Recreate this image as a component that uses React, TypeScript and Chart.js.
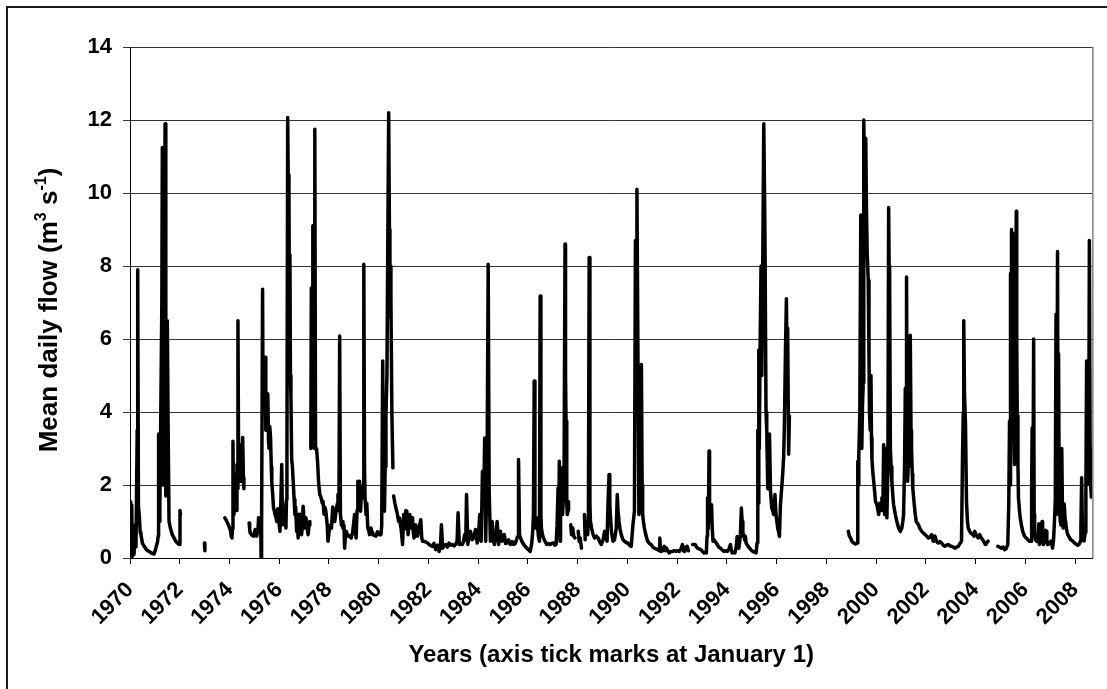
import React, { useEffect, useRef } from "react";
import { Chart, registerables } from "chart.js";

Chart.register(...registerables);

const yearTicks = [1970, 1972, 1974, 1976, 1978, 1980, 1982, 1984, 1986, 1988, 1990, 1992, 1994, 1996, 1998, 2000, 2002, 2004, 2006, 2008];
const yMin = 0;
const yMax = 14;
const yStep = 2;
const xMin = 1970;
const xMax = 2008.69;

const xTitle = "Years (axis tick marks at January 1)";
const yTitleParts: [string, boolean][] = [["Mean daily flow (m", false], ["3", true], [" s", false], ["-1", true], [")", false]];

// Mean daily flow, [decimal year, m3/s], separated where the record has gaps
const flow1970: [number, number][] = [
  [1970.00, 0.3], [1970.02, 1.54], [1970.04, 0.05], [1970.07, 1.45], [1970.10, 0.05], [1970.13, 0.9], [1970.16, 0.1], [1970.20, 0.6], [1970.24, 0.3], [1970.29, 3.5], [1970.31, 7.9], [1970.34, 1.4], [1970.37, 1.2], [1970.41, 0.7], [1970.44, 0.64], [1970.50, 0.4], [1970.57, 0.32], [1970.67, 0.22], [1970.77, 0.18], [1970.87, 0.13], [1970.97, 0.11], [1971.04, 0.27], [1971.11, 0.46], [1971.13, 0.6], [1971.15, 3.4], [1971.18, 1.0], [1971.20, 1.4], [1971.24, 4.1], [1971.28, 7.0], [1971.30, 11.25], [1971.33, 2.0], [1971.35, 8.5], [1971.37, 4.0], [1971.41, 11.9], [1971.44, 1.7], [1971.47, 3.5], [1971.50, 6.5], [1971.54, 3.0], [1971.57, 1.0], [1971.63, 0.8], [1971.70, 0.64], [1971.77, 0.55], [1971.84, 0.46], [1971.92, 0.4], [1971.99, 0.37], [1972.01, 1.3], [1972.03, 1.2],
];
const flow1973: [number, number][] = [[1972.99, 0.41], [1973.01, 0.2]];
const flow1974: [number, number][] = [
  [1973.81, 1.1], [1973.86, 1.05], [1973.90, 0.99], [1973.96, 0.9], [1974.03, 0.78], [1974.07, 0.6], [1974.10, 0.55], [1974.12, 0.8], [1974.14, 3.2], [1974.16, 1.2], [1974.18, 1.19], [1974.21, 2.3], [1974.23, 1.46], [1974.27, 1.3], [1974.30, 2.56], [1974.32, 1.9], [1974.34, 6.5], [1974.37, 2.1], [1974.40, 2.4], [1974.43, 3.1], [1974.47, 2.1], [1974.50, 2.6], [1974.53, 3.3], [1974.56, 2.2], [1974.58, 1.9],
];
const flow1975: [number, number][] = [
  [1974.79, 0.96], [1974.81, 0.8], [1974.83, 0.69], [1974.90, 0.62], [1974.97, 0.6], [1975.03, 0.78], [1975.07, 0.6], [1975.10, 0.64], [1975.14, 0.7], [1975.17, 1.1], [1975.20, 0.75], [1975.23, 0.82], [1975.26, 0.7], [1975.27, 0.0], [1975.29, 0.8], [1975.33, 7.36], [1975.35, 4.2], [1975.37, 4.1], [1975.40, 5.2], [1975.43, 5.5], [1975.46, 3.5], [1975.49, 3.9], [1975.52, 4.4], [1975.54, 4.5], [1975.57, 3.2], [1975.59, 3.0], [1975.62, 3.6], [1975.65, 3.3], [1975.68, 2.5], [1975.70, 2.1], [1975.74, 1.7], [1975.77, 1.37], [1975.80, 1.3], [1975.83, 1.19], [1975.87, 1.1], [1975.90, 1.0], [1975.94, 1.35], [1975.97, 1.28], [1976.00, 0.9], [1976.03, 0.73], [1976.06, 1.4], [1976.10, 2.56], [1976.12, 1.5], [1976.14, 0.91], [1976.18, 1.3], [1976.21, 1.19], [1976.24, 1.1], [1976.27, 0.82], [1976.29, 1.6], [1976.31, 3.0], [1976.34, 12.07], [1976.36, 10.5], [1976.39, 10.3], [1976.41, 6.0], [1976.43, 8.3], [1976.45, 5.0], [1976.47, 4.4], [1976.50, 2.7], [1976.53, 2.5], [1976.56, 2.1], [1976.60, 1.6], [1976.63, 1.19], [1976.66, 1.4], [1976.70, 0.73], [1976.73, 1.0], [1976.76, 0.55], [1976.80, 1.2], [1976.83, 0.91], [1976.87, 0.8], [1976.90, 0.64], [1976.93, 0.9], [1976.96, 1.42], [1977.00, 1.0], [1977.03, 0.82], [1977.07, 1.1], [1977.10, 1.0], [1977.13, 0.8], [1977.16, 0.64], [1977.20, 0.9], [1977.23, 1.0],
];
const flow1977: [number, number][] = [
  [1977.27, 3.0], [1977.29, 7.4], [1977.31, 5.5], [1977.33, 6.2], [1977.35, 9.1], [1977.37, 3.5], [1977.39, 5.2], [1977.41, 3.0], [1977.43, 11.75], [1977.46, 3.0], [1977.50, 3.0], [1977.54, 2.65], [1977.58, 2.1], [1977.63, 1.74], [1977.66, 1.7], [1977.70, 1.6], [1977.73, 1.5], [1977.76, 1.55], [1977.80, 1.2], [1977.83, 1.4], [1977.87, 1.3], [1977.90, 1.1], [1977.93, 0.9], [1977.96, 0.46], [1978.00, 0.7], [1978.05, 0.9], [1978.10, 0.82], [1978.15, 1.4], [1978.19, 1.1], [1978.23, 1.0], [1978.27, 1.2], [1978.30, 1.37], [1978.34, 1.5], [1978.36, 1.74], [1978.40, 1.3], [1978.43, 6.08], [1978.46, 1.2], [1978.50, 0.9], [1978.53, 1.0], [1978.56, 0.82], [1978.60, 0.9], [1978.63, 0.27], [1978.66, 0.6], [1978.70, 0.73], [1978.73, 0.6], [1978.76, 0.64], [1978.82, 0.6], [1978.89, 0.55], [1978.95, 0.7], [1979.03, 1.19], [1979.06, 0.8], [1979.09, 0.55], [1979.13, 1.3], [1979.16, 2.1], [1979.19, 1.4], [1979.23, 2.1], [1979.27, 1.28], [1979.31, 1.9], [1979.36, 1.65], [1979.38, 2.0], [1979.40, 8.05], [1979.43, 2.4], [1979.45, 1.65], [1979.49, 1.19], [1979.52, 1.5], [1979.56, 0.82], [1979.60, 0.75], [1979.63, 0.64], [1979.66, 0.7], [1979.69, 0.82], [1979.73, 0.7], [1979.76, 0.64], [1979.82, 0.62], [1979.89, 0.6], [1979.95, 0.72], [1980.03, 0.64], [1980.09, 0.64], [1980.12, 0.9], [1980.16, 5.4], [1980.19, 1.8], [1980.23, 1.28], [1980.26, 2.5], [1980.29, 3.9], [1980.33, 5.0], [1980.36, 8.2], [1980.40, 12.2], [1980.43, 9.0], [1980.45, 6.6], [1980.47, 8.0], [1980.49, 7.1], [1980.53, 3.9], [1980.57, 2.47],
];
const flow1981: [number, number][] = [
  [1980.60, 1.7], [1980.65, 1.5], [1980.69, 1.37], [1980.75, 1.2], [1980.80, 1.0], [1980.83, 1.1], [1980.90, 0.8], [1980.96, 0.37], [1981.00, 1.19], [1981.03, 0.8], [1981.05, 0.91], [1981.09, 1.3], [1981.13, 1.28], [1981.16, 0.9], [1981.18, 0.64], [1981.22, 1.0], [1981.25, 1.19], [1981.29, 0.82], [1981.33, 0.9], [1981.36, 1.1], [1981.39, 0.7], [1981.42, 0.55], [1981.46, 0.8], [1981.49, 0.91], [1981.53, 0.6], [1981.56, 0.6], [1981.63, 0.85], [1981.69, 1.05], [1981.73, 0.55], [1981.76, 0.46], [1981.86, 0.45], [1981.96, 0.41], [1982.06, 0.35], [1982.16, 0.32], [1982.22, 0.4], [1982.29, 0.23], [1982.36, 0.35], [1982.43, 0.18], [1982.48, 0.3], [1982.52, 0.91], [1982.57, 0.27], [1982.63, 0.35], [1982.69, 0.37], [1982.76, 0.3], [1982.83, 0.41], [1982.90, 0.35], [1982.96, 0.37], [1983.03, 0.33], [1983.09, 0.37], [1983.15, 0.45], [1983.19, 1.24], [1983.24, 0.37], [1983.30, 0.4], [1983.36, 0.37], [1983.41, 0.45], [1983.45, 0.64], [1983.50, 0.5], [1983.53, 1.74], [1983.58, 0.37], [1983.63, 0.6], [1983.69, 0.73], [1983.75, 0.5], [1983.82, 0.55], [1983.89, 0.78], [1983.96, 0.41], [1984.01, 0.6], [1984.06, 1.19], [1984.12, 0.46], [1984.17, 2.38], [1984.22, 1.55], [1984.26, 3.29], [1984.30, 0.46], [1984.33, 1.5], [1984.36, 3.0], [1984.40, 8.05], [1984.44, 1.83], [1984.49, 0.46], [1984.53, 0.8], [1984.56, 1.0], [1984.60, 0.5], [1984.65, 0.37], [1984.70, 0.6], [1984.76, 1.0], [1984.82, 0.37], [1984.89, 0.73], [1984.96, 0.46], [1985.05, 0.64], [1985.10, 0.4], [1985.16, 0.41], [1985.22, 0.5], [1985.29, 0.37], [1985.36, 0.45], [1985.42, 0.37], [1985.49, 0.4], [1985.56, 0.55], [1985.60, 0.6], [1985.62, 2.7], [1985.66, 0.64], [1985.70, 0.55], [1985.75, 0.46], [1985.85, 0.35], [1985.95, 0.27], [1986.03, 0.22], [1986.09, 0.18], [1986.15, 0.4], [1986.19, 0.73], [1986.22, 1.2], [1986.25, 4.85], [1986.28, 1.0], [1986.30, 0.82], [1986.34, 1.1], [1986.38, 0.91], [1986.42, 0.6], [1986.46, 0.46], [1986.49, 7.18], [1986.52, 1.2], [1986.54, 0.82], [1986.58, 0.65], [1986.62, 0.55], [1986.69, 0.45], [1986.75, 0.37], [1986.82, 0.4], [1986.89, 0.37], [1986.95, 0.4], [1987.02, 0.41], [1987.08, 0.35], [1987.13, 0.37], [1987.17, 0.9], [1987.21, 1.92], [1987.24, 1.0], [1987.26, 2.65], [1987.29, 0.46], [1987.31, 1.2], [1987.34, 2.47], [1987.37, 1.5], [1987.39, 1.19], [1987.42, 1.6], [1987.45, 2.01], [1987.49, 8.6], [1987.51, 5.0], [1987.53, 3.75], [1987.56, 1.5], [1987.58, 1.19], [1987.61, 1.3], [1987.63, 1.55],
];
const flow1987b: [number, number][] = [[1987.72, 0.91], [1987.75, 0.64], [1987.80, 0.82], [1987.84, 0.6], [1987.89, 0.55]];
const flow1988a: [number, number][] = [[1988.02, 0.73], [1988.06, 0.45], [1988.10, 0.55], [1988.15, 0.27]];
const flow1988b: [number, number][] = [[1988.27, 1.19], [1988.30, 0.5]];
const flow1988: [number, number][] = [
  [1988.40, 0.64], [1988.43, 1.19], [1988.46, 8.23], [1988.49, 1.5], [1988.51, 1.01], [1988.56, 0.8], [1988.62, 0.64], [1988.68, 0.55], [1988.75, 0.6], [1988.82, 0.55], [1988.88, 0.45], [1988.95, 0.37], [1989.02, 0.5], [1989.08, 0.73], [1989.13, 0.55], [1989.18, 0.46], [1989.22, 1.55], [1989.26, 2.29], [1989.29, 1.5], [1989.31, 1.19], [1989.36, 0.7], [1989.42, 0.46], [1989.48, 0.5], [1989.55, 0.82], [1989.59, 1.74], [1989.62, 1.3], [1989.66, 1.01], [1989.70, 0.8], [1989.75, 0.64], [1989.82, 0.5], [1989.88, 0.46], [1989.95, 0.42], [1990.02, 0.41], [1990.08, 0.35], [1990.15, 0.32], [1990.22, 0.91], [1990.28, 1.28], [1990.32, 8.7], [1990.35, 5.0], [1990.38, 10.1], [1990.42, 5.7], [1990.46, 1.19], [1990.51, 1.37], [1990.54, 2.0], [1990.56, 5.3], [1990.59, 2.0], [1990.61, 1.19], [1990.65, 0.95], [1990.68, 0.82], [1990.75, 0.6], [1990.81, 0.46], [1990.88, 0.4], [1990.95, 0.37], [1991.02, 0.3], [1991.08, 0.27], [1991.15, 0.25], [1991.21, 0.23], [1991.28, 0.2], [1991.30, 0.55], [1991.33, 0.22], [1991.35, 0.18], [1991.42, 0.2], [1991.48, 0.32], [1991.52, 0.2], [1991.57, 0.27], [1991.62, 0.2], [1991.68, 0.14], [1991.75, 0.18], [1991.81, 0.18], [1991.88, 0.2], [1991.95, 0.18], [1992.02, 0.2], [1992.08, 0.18], [1992.15, 0.25], [1992.21, 0.37], [1992.25, 0.2], [1992.30, 0.18], [1992.35, 0.3], [1992.40, 0.32], [1992.45, 0.2],
];
const flow1993: [number, number][] = [
  [1992.62, 0.37], [1992.72, 0.37], [1992.81, 0.27], [1992.88, 0.25], [1992.95, 0.23], [1993.02, 0.18], [1993.08, 0.14], [1993.13, 0.15], [1993.17, 0.14], [1993.20, 0.6], [1993.22, 1.65], [1993.25, 0.8], [1993.28, 2.93], [1993.30, 1.5], [1993.33, 1.0], [1993.36, 1.2], [1993.38, 1.46], [1993.41, 0.8], [1993.44, 0.46], [1993.48, 0.5], [1993.52, 0.46], [1993.56, 0.42], [1993.61, 0.37], [1993.67, 0.3], [1993.74, 0.27], [1993.81, 0.22], [1993.88, 0.18], [1993.95, 0.2], [1994.01, 0.18], [1994.08, 0.25], [1994.14, 0.37], [1994.18, 0.2], [1994.21, 0.14], [1994.26, 0.15], [1994.32, 0.14], [1994.37, 0.3], [1994.41, 0.59], [1994.45, 0.3], [1994.48, 0.27], [1994.51, 0.45], [1994.54, 0.64], [1994.58, 1.37], [1994.61, 1.0], [1994.64, 0.6], [1994.68, 0.64], [1994.71, 0.5], [1994.74, 0.59], [1994.77, 0.41], [1994.84, 0.33], [1994.91, 0.27], [1994.97, 0.22], [1995.04, 0.18], [1995.10, 0.16], [1995.17, 0.14], [1995.21, 0.41], [1995.24, 3.5], [1995.26, 1.5], [1995.28, 5.7], [1995.30, 3.0], [1995.33, 5.6], [1995.37, 8.0], [1995.40, 5.0], [1995.44, 8.2], [1995.48, 11.9], [1995.51, 10.0], [1995.53, 8.6], [1995.57, 4.0], [1995.60, 3.5], [1995.64, 1.9], [1995.68, 2.2], [1995.71, 3.4], [1995.75, 1.83], [1995.80, 1.37], [1995.84, 1.3], [1995.88, 1.19], [1995.93, 1.74], [1995.97, 1.19], [1996.04, 0.82], [1996.08, 0.7], [1996.11, 0.59], [1996.15, 1.46], [1996.20, 1.92], [1996.24, 2.29], [1996.28, 2.8], [1996.31, 3.66], [1996.35, 5.58], [1996.39, 7.1], [1996.42, 5.0], [1996.44, 6.3], [1996.48, 2.84], [1996.51, 3.9],
];
const flow1999: [number, number][] = [
  [1998.88, 0.73], [1998.92, 0.6], [1998.97, 0.55], [1999.03, 0.45], [1999.10, 0.41], [1999.17, 0.38], [1999.24, 0.41], [1999.26, 2.65], [1999.28, 2.0], [1999.30, 2.83], [1999.34, 3.9], [1999.38, 9.4], [1999.42, 3.0], [1999.45, 4.2], [1999.48, 4.8], [1999.50, 12.0], [1999.52, 10.8], [1999.54, 11.2], [1999.56, 10.5], [1999.58, 11.5], [1999.61, 9.5], [1999.64, 8.3], [1999.68, 7.6], [1999.71, 5.5], [1999.73, 4.0], [1999.76, 3.5], [1999.79, 5.0], [1999.81, 3.3], [1999.83, 2.7], [1999.87, 2.3], [1999.90, 2.1], [1999.94, 1.8], [1999.97, 1.55], [2000.03, 1.46], [2000.07, 1.3], [2000.10, 1.19], [2000.14, 1.5], [2000.17, 1.37], [2000.20, 1.3], [2000.23, 1.65], [2000.27, 1.4], [2000.30, 3.1], [2000.32, 1.5], [2000.34, 1.19], [2000.36, 2.0], [2000.38, 3.0], [2000.41, 1.3], [2000.43, 1.1], [2000.47, 2.5], [2000.50, 9.6], [2000.52, 8.0], [2000.54, 7.6], [2000.57, 3.0], [2000.60, 2.5], [2000.63, 2.1], [2000.67, 1.7], [2000.70, 1.46], [2000.74, 1.3], [2000.77, 1.19], [2000.83, 1.0], [2000.90, 0.82], [2000.97, 0.73], [2001.03, 0.82], [2001.07, 1.0], [2001.10, 1.19], [2001.14, 2.5], [2001.17, 4.65], [2001.20, 3.0], [2001.22, 7.7], [2001.24, 4.0], [2001.26, 2.1], [2001.29, 2.5], [2001.31, 3.9], [2001.34, 4.5], [2001.37, 6.1], [2001.40, 3.5], [2001.42, 3.0], [2001.45, 2.3], [2001.47, 1.92], [2001.53, 1.46], [2001.57, 1.2], [2001.61, 1.0], [2001.70, 0.91], [2001.76, 0.8], [2001.83, 0.73], [2001.90, 0.68], [2001.97, 0.64], [2002.03, 0.6], [2002.10, 0.55], [2002.17, 0.58], [2002.23, 0.64], [2002.27, 0.5], [2002.30, 0.46], [2002.36, 0.6], [2002.43, 0.45], [2002.50, 0.41], [2002.56, 0.45], [2002.63, 0.41], [2002.70, 0.35], [2002.76, 0.32], [2002.83, 0.35], [2002.90, 0.37], [2002.97, 0.33], [2003.03, 0.32], [2003.10, 0.3], [2003.16, 0.27], [2003.23, 0.3], [2003.30, 0.32], [2003.37, 0.4], [2003.43, 0.46], [2003.47, 2.74], [2003.50, 4.0], [2003.52, 6.5], [2003.55, 4.5], [2003.59, 3.66], [2003.63, 1.55], [2003.67, 1.0], [2003.70, 0.82], [2003.75, 0.75], [2003.79, 0.69], [2003.85, 0.66], [2003.90, 0.64], [2003.93, 0.6], [2003.96, 0.73], [2004.03, 0.62], [2004.10, 0.55], [2004.16, 0.64], [2004.20, 0.58], [2004.23, 0.55], [2004.28, 0.5], [2004.32, 0.46], [2004.36, 0.4], [2004.40, 0.37], [2004.45, 0.42], [2004.50, 0.46],
];
const flow2005: [number, number][] = [
  [2004.89, 0.32], [2004.95, 0.3], [2005.03, 0.27], [2005.10, 0.3], [2005.16, 0.23], [2005.22, 0.25], [2005.29, 0.37], [2005.33, 1.5], [2005.36, 3.75], [2005.38, 2.0], [2005.40, 7.8], [2005.42, 5.0], [2005.44, 9.0], [2005.47, 7.0], [2005.49, 8.9], [2005.52, 4.0], [2005.56, 2.56], [2005.60, 5.0], [2005.63, 9.5], [2005.65, 6.0], [2005.67, 3.9], [2005.70, 2.5], [2005.72, 1.65], [2005.76, 1.3], [2005.79, 1.1], [2005.84, 0.9], [2005.89, 0.73], [2005.96, 0.6], [2006.03, 0.55], [2006.10, 0.5], [2006.16, 0.46], [2006.23, 0.46], [2006.25, 2.0], [2006.27, 3.57], [2006.30, 1.5], [2006.33, 6.0], [2006.35, 1.2], [2006.37, 0.64], [2006.41, 0.5], [2006.45, 0.46], [2006.50, 0.45], [2006.54, 0.94], [2006.56, 0.37], [2006.61, 0.5], [2006.67, 1.0], [2006.69, 0.6], [2006.72, 0.37], [2006.77, 0.5], [2006.81, 0.76], [2006.83, 0.73], [2006.86, 0.5], [2006.89, 0.37], [2006.96, 0.4], [2007.03, 0.46], [2007.09, 0.27], [2007.13, 0.5], [2007.16, 0.91], [2007.20, 1.58], [2007.23, 6.68], [2007.26, 1.2], [2007.29, 8.4], [2007.31, 2.0], [2007.33, 5.6], [2007.36, 1.5], [2007.40, 1.0], [2007.43, 0.9], [2007.46, 3.0], [2007.49, 1.2], [2007.52, 0.82], [2007.56, 1.48], [2007.60, 1.0], [2007.62, 0.94], [2007.66, 0.75], [2007.69, 0.66], [2007.76, 0.57], [2007.82, 0.5], [2007.89, 0.47], [2007.96, 0.42], [2008.03, 0.38], [2008.10, 0.35], [2008.16, 0.38], [2008.20, 0.45], [2008.23, 0.84], [2008.26, 2.2], [2008.29, 0.8], [2008.32, 0.57], [2008.36, 0.47], [2008.40, 0.7], [2008.43, 1.84], [2008.46, 5.4], [2008.49, 3.0], [2008.51, 2.02], [2008.55, 4.0], [2008.57, 8.7], [2008.60, 3.0], [2008.62, 2.02], [2008.65, 1.67],
];

const flowSegments = [flow1970, flow1973, flow1974, flow1975, flow1977, flow1981, flow1987b, flow1988a, flow1988b, flow1988, flow1993, flow1999, flow2005];

const FONT = '"Liberation Sans", Arial, sans-serif';

const decorPlugin = {
  id: "decor",
  beforeDraw(chart: any) {
    const ctx = chart.ctx;
    ctx.save();
    ctx.fillStyle = "#ffffff";
    ctx.fillRect(0, 0, chart.width, chart.height);
    ctx.restore();
  },
  afterDraw(chart: any) {
    const ctx = chart.ctx;
    const ca = chart.chartArea;
    ctx.save();
    // outer chart border (left and top visible)
    ctx.strokeStyle = "#1a1a1a";
    ctx.lineWidth = 2;
    ctx.beginPath();
    ctx.moveTo(7, chart.height);
    ctx.lineTo(7, 7);
    ctx.lineTo(chart.width, 7);
    ctx.stroke();
    // plot area right border
    ctx.strokeStyle = "#808080";
    ctx.lineWidth = 1.5;
    ctx.beginPath();
    ctx.moveTo(ca.right + 0.5, ca.top);
    ctx.lineTo(ca.right + 0.5, ca.bottom);
    ctx.stroke();
    // x axis title
    ctx.fillStyle = "#000";
    ctx.font = `bold 24px ${FONT}`;
    ctx.textAlign = "center";
    ctx.textBaseline = "alphabetic";
    ctx.fillText(xTitle, (ca.left + ca.right) / 2, 662);
    // y axis title with superscripts
    const big = `bold 26px ${FONT}`;
    const small = `bold 16px ${FONT}`;
    let total = 0;
    for (const [t, sup] of yTitleParts) {
      ctx.font = sup ? small : big;
      total += ctx.measureText(t).width;
    }
    ctx.translate(57, 310);
    ctx.rotate(-Math.PI / 2);
    ctx.textAlign = "left";
    let x = -total / 2;
    for (const [t, sup] of yTitleParts) {
      ctx.font = sup ? small : big;
      ctx.fillText(t, x, sup ? -11 : 0);
      x += ctx.measureText(t).width;
    }
    ctx.restore();
  },
};

export default function App() {
  const canvasRef = useRef<HTMLCanvasElement | null>(null);

  useEffect(() => {
    const canvas = canvasRef.current;
    if (!canvas) return;
    const data: { x: number; y: number | null }[] = [];
    flowSegments.forEach((seg, i) => {
      seg.forEach(([x, y]) => data.push({ x, y }));
      if (i < flowSegments.length - 1) data.push({ x: seg[seg.length - 1][0] + 0.005, y: null });
    });

    const chart = new Chart(canvas, {
      type: "line",
      data: {
        datasets: [
          {
            data: data as any,
            borderColor: "#000",
            borderWidth: 3.5,
            pointRadius: 0,
            tension: 0,
            spanGaps: false,
            borderJoinStyle: "round",
            borderCapStyle: "round",
          },
        ],
      },
      options: {
        responsive: false,
        animation: false,
        layout: { padding: { left: 0, top: 47, right: 8, bottom: 0 } },
        plugins: { legend: { display: false }, tooltip: { enabled: false }, title: { display: false } },
        scales: {
          x: {
            type: "linear",
            min: xMin,
            max: xMax,
            afterBuildTicks: (scale: any) => {
              scale.ticks = yearTicks.map((v) => ({ value: v }));
            },
            afterFit: (scale: any) => {
              scale.height = 131;
            },
            ticks: {
              autoSkip: false,
              minRotation: 45,
              maxRotation: 45,
              color: "#000",
              font: { family: FONT, size: 22, weight: "bold" },
              padding: 13,
              callback: (v: any) => String(v),
            },
            grid: { drawOnChartArea: false, drawTicks: true, tickLength: 6, color: "#000" },
            border: { display: true, color: "#000", width: 1 },
          },
          y: {
            min: yMin,
            max: yMax,
            afterFit: (scale: any) => {
              scale.width = 130;
            },
            ticks: {
              stepSize: yStep,
              color: "#000",
              font: { family: FONT, size: 22, weight: "bold" },
              padding: 11,
            },
            grid: { color: "#333", lineWidth: 1, tickLength: 7, drawTicks: true },
            border: { display: true, color: "#000", width: 1 },
          },
        },
      },
      plugins: [decorPlugin],
    });
    return () => chart.destroy();
  }, []);

  return (
    <div style={{ position: "absolute", left: 0, top: 0, width: 1107, height: 689 }}>
      <canvas ref={canvasRef} width={1107} height={689} />
    </div>
  );
}
